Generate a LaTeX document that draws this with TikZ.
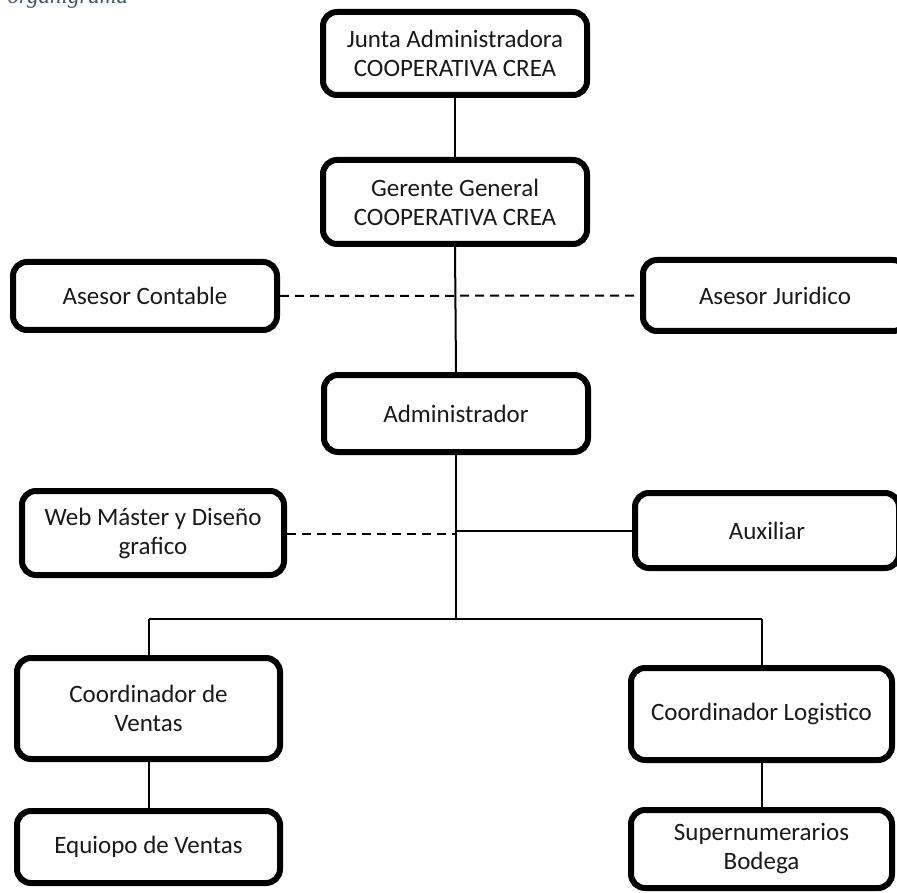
\documentclass[tikz,border=0pt]{standalone}
\usepackage{fontspec}
\setmainfont{Carlito}
\newfontfamily\capfont{Liberation Serif}
\definecolor{captc}{RGB}{68,84,106}
\definecolor{txtc}{RGB}{25,25,25}
\begin{document}
\begin{tikzpicture}[x=1pt,y=-1pt,
  orgbox/.style={draw, line width=6pt, rounded corners=14pt, align=center, inner sep=0pt,
     text=txtc, font=\fontsize{25}{29}\selectfont},
  link/.style={line width=2pt},
  dlink/.style={line width=2pt, dash pattern=on 9pt off 6pt}]
\useasboundingbox (0,0) rectangle (897,893);
\clip (0,0) rectangle (897,893);
\fill[white] (0,0) rectangle (897,893);
\node[anchor=base west, font=\capfont\itshape\fontsize{23}{27}\selectfont, text=captc] (cap) at (4,4) {organigrama};

\node[orgbox, minimum width=264pt, minimum height=83pt] (junta) at (455,53.5) {Junta Administradora\\COOPERATIVA CREA};
\node[orgbox, minimum width=264pt, minimum height=84pt] (gerente) at (455,202) {Gerente General\\COOPERATIVA CREA};
\node[orgbox, minimum width=264pt, minimum height=68pt] (contable) at (145,296) {Asesor Contable};
\node[orgbox, minimum width=264pt, minimum height=71pt] (juridico) at (775,295.5) {Asesor Juridico};
\node[orgbox, minimum width=264pt, minimum height=77pt] (admin) at (456,413.5) {Administrador};
\node[orgbox, minimum width=262pt, minimum height=84pt] (web) at (153,533) {Web Máster y Diseño\\grafico};
\node[orgbox, minimum width=264pt, minimum height=75pt] (aux) at (767,530.5) {Auxiliar};
\node[orgbox, minimum width=263pt, minimum height=101pt] (cventas) at (148.5,708.5) {Coordinador de\\Ventas};
\node[orgbox, minimum width=261pt, minimum height=92pt] (clog) at (761.5,714) {Coordinador Logistico};
\node[orgbox, minimum width=263pt, minimum height=72pt] (equipo) at (148.5,847) {Equiopo de Ventas};
\node[orgbox, minimum width=261pt, minimum height=78pt] (super) at (761.5,849) {Supernumerarios\\Bodega};

\coordinate (webj) at (456,534);
\coordinate (auxj) at (456,531);
\coordinate (bus) at (456,619);
\coordinate (busL) at (148.5,619);
\coordinate (busR) at (761.5,619);

\draw[link] (junta.south) -- (gerente.north);
\draw[link] (gerente.south) -- (admin.north);
\draw[dlink] (contable.east) -- (juridico.west);
\draw[link] (admin.south) -- (bus);
\draw[dlink] (web.east |- webj) -- (webj);
\draw[link] (auxj) -- (aux.west |- auxj);
\draw[link] (busL) -- (busR);
\draw[link] (busL) -- (cventas.north);
\draw[link] (busR) -- (clog.north);
\draw[link] (cventas.south) -- (equipo.north);
\draw[link] (clog.south) -- (super.north);
\end{tikzpicture}
\end{document}
